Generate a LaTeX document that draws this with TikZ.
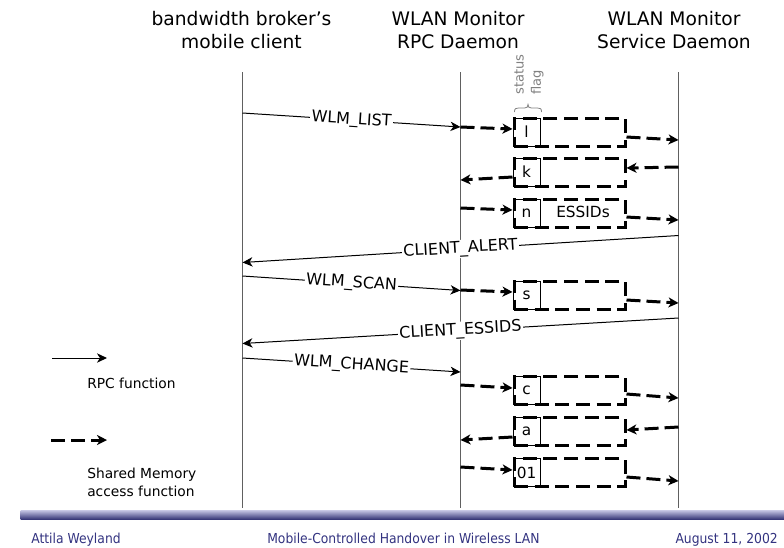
\documentclass[tikz,border=0pt]{standalone}
\usepackage{fontspec}
\setmainfont{DejaVu Sans}
\newfontfamily\footfont[FakeStretch=0.9]{DejaVu Sans}
\usetikzlibrary{arrows.meta}
\definecolor{lifegray}{RGB}{96,96,96}
\definecolor{flaggray}{RGB}{128,128,128}
\definecolor{footblue}{RGB}{51,51,128}
\definecolor{barlight}{RGB}{200,200,230}
\definecolor{barmid}{RGB}{110,110,172}
\definecolor{bardark}{RGB}{48,48,115}
\begin{document}
\begin{tikzpicture}[x=0.75pt,y=-0.75pt,
  lifeline/.style={draw=lifegray, line width=0.9pt},
  hdr/.style={font=\fontsize{14}{17.25}\selectfont, align=center, inner sep=0, anchor=north},
  rpc/.style={draw=black, line width=0.75pt, -{Stealth[length=7.5pt,width=7pt,inset=2.2pt]}},
  shm/.style={draw=black, line width=2.25pt, dash pattern=on 10.5pt off 4.5pt, -{Stealth[length=7.5pt,width=7.5pt,inset=2.2pt]}},
  msg/.style={sloped, fill=white, inner sep=1pt, font=\fontsize{12}{14}\selectfont, pos=0.5},
  membox/.style={draw=black, line width=2.25pt, dash pattern=on 10.5pt off 5pt, minimum width=83.25pt, minimum height=21pt, inner sep=0},
  flagbox/.style={draw=black, line width=0.75pt, minimum width=20.25pt, minimum height=21pt, inner sep=0, anchor=west, font=\fontsize{11.5}{13}\selectfont},
  legtext/.style={font=\fontsize{10.35}{13.5}\selectfont, align=left, inner sep=0},
  foot/.style={font=\footfont\fontsize{10.3}{12}\selectfont, text=footblue, inner sep=0},
  bracestyle/.style={draw=flaggray, line width=0.6pt}
]
\useasboundingbox (0,0) rectangle (784,547);

% headers
\node[hdr] (h1) at (241.5,11) {bandwidth broker’s\\mobile client};
\node[hdr] (h2) at (458,11) {WLAN Monitor\\RPC Daemon};
\node[hdr] (h3) at (674,11) {WLAN Monitor\\Service Daemon};

% lifelines
\coordinate (bbT) at (242.5,72); \coordinate (bbB) at (242.5,508);
\coordinate (rpT) at (460.5,72); \coordinate (rpB) at (460.5,508);
\coordinate (svT) at (678.5,72); \coordinate (svB) at (678.5,508);
\draw[lifeline] (bbT) -- (bbB);
\draw[lifeline] (rpT) -- (rpB);
\draw[lifeline] (svT) -- (svB);

% status flag
\node[rotate=90, anchor=west, align=left, font=\fontsize{9.8}{13}\selectfont, text=flaggray, inner sep=0] (sf) at (529,95) {status\\flag};
\draw[bracestyle] (514.5,112) .. controls (514.5,108.5) and (515.5,108) .. (518.5,108)
  -- (524.5,108) .. controls (527,108) and (528,107) .. (528,104.5)
  .. controls (528,107) and (529,108) .. (531.5,108)
  -- (537.5,108) .. controls (540.5,108) and (541.5,108.5) .. (541.5,112);

% RPC messages
\coordinate (m1a) at (242.5,113); \coordinate (m1b) at (460.5,127);
\draw[rpc] (m1a) -- node[msg]{WLM\_LIST} (m1b);
\coordinate (m2a) at (678.5,235.5); \coordinate (m2b) at (242.5,262.5);
\draw[rpc] (m2a) -- node[msg]{CLIENT\_ALERT} (m2b);
\coordinate (m3a) at (242.5,276); \coordinate (m3b) at (460.5,290.5);
\draw[rpc] (m3a) -- node[msg]{WLM\_SCAN} (m3b);
\coordinate (m4a) at (678.5,318); \coordinate (m4b) at (242.5,343.5);
\draw[rpc] (m4a) -- node[msg]{CLIENT\_ESSIDS} (m4b);
\coordinate (m5a) at (242.5,358); \coordinate (m5b) at (460.5,372);
\draw[rpc] (m5a) -- node[msg]{WLM\_CHANGE} (m5b);

% shared memory boxes
\node[membox] (b1) at (569.5,132) {};
\node[flagbox] (f1) at (b1.west) {l};
\coordinate (b1i) at (460.5,127); \coordinate (b1o) at (678.5,140);
\draw[shm] (b1i) -- ([yshift=2.25pt]b1.west);
\draw[shm] ([yshift=-3.75pt]b1.east) -- (b1o);

\node[membox] (b2) at (569.5,172) {};
\node[flagbox] (f2) at (b2.west) {k};
\coordinate (b2i) at (678.5,167); \coordinate (b2o) at (460.5,180);
\draw[shm] (b2i) -- ([yshift=3pt]b2.east);
\draw[shm] ([yshift=-3.75pt]b2.west) -- (b2o);

\node[membox] (b3) at (569.5,213) {};
\node[flagbox] (f3) at (b3.west) {n};
\node[font=\fontsize{11.5}{13}\selectfont, inner sep=0] (es) at (583,212) {ESSIDs};
\coordinate (b3i) at (460.5,208); \coordinate (b3o) at (678.5,220);
\draw[shm] (b3i) -- ([yshift=2.25pt]b3.west);
\draw[shm] ([yshift=-3pt]b3.east) -- (b3o);

\node[membox] (b4) at (569.5,295) {};
\node[flagbox] (f4) at (b4.west) {s};
\coordinate (b4i) at (460.5,290); \coordinate (b4o) at (678.5,303);
\draw[shm] (b4i) -- ([yshift=2.25pt]b4.west);
\draw[shm] ([yshift=-3.75pt]b4.east) -- (b4o);

\node[membox] (b5) at (569.5,390.5) {};
\node[flagbox] (f5) at (b5.west) {c};
\coordinate (b5i) at (460.5,385); \coordinate (b5o) at (678.5,398);
\draw[shm] (b5i) -- ([yshift=1.875pt]b5.west);
\draw[shm] ([yshift=-2.625pt]b5.east) -- (b5o);

\node[membox] (b6) at (569.5,431.5) {};
\node[flagbox] (f6) at (b6.west) {a};
\coordinate (b6i) at (678.5,427); \coordinate (b6o) at (460.5,440);
\draw[shm] (b6i) -- ([yshift=1.125pt]b6.east);
\draw[shm] ([yshift=-4.125pt]b6.west) -- (b6o);

\node[membox] (b7) at (569.5,472.5) {};
\node[flagbox] (f7) at (b7.west) {01};
\coordinate (b7i) at (460.5,467); \coordinate (b7o) at (678.5,481);
\draw[shm] (b7i) -- ([yshift=1.875pt]b7.west);
\draw[shm] ([yshift=-3.375pt]b7.east) -- (b7o);

% legend
\coordinate (l1a) at (52,358); \coordinate (l1b) at (107,358);
\draw[rpc] (l1a) -- (l1b);
\node[legtext, anchor=base west] (lt1) at (87,388) {RPC function};
\coordinate (l2a) at (51,440); \coordinate (l2b) at (107,440);
\draw[shm] (l2a) -- (l2b);
\node[legtext, anchor=north west] (lt2) at (87,467.5) {Shared Memory\\access function};

% footer
\shade[top color=barlight, middle color=barmid, bottom color=bardark] (20.7,510) rectangle (784,519.5);
\node[foot, anchor=base west] (fa) at (31,543) {Attila Weyland};
\node[foot, anchor=base west] (fb) at (267,543) {Mobile-Controlled Handover in Wireless LAN};
\node[foot, anchor=base east] (fc) at (778,543) {August 11, 2002};
\end{tikzpicture}
\end{document}
